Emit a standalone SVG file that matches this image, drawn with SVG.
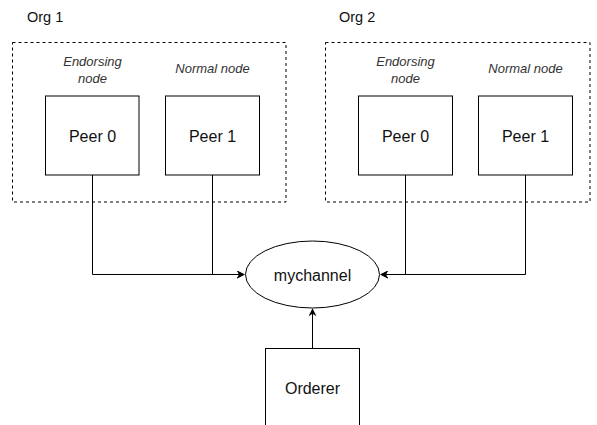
<svg xmlns="http://www.w3.org/2000/svg" width="597" height="425" viewBox="0 0 597 425">
<style>
.org{fill:none;stroke:#000;stroke-width:1;stroke-dasharray:3 3}
.box{fill:#fff;stroke:#000;stroke-width:1}
.t{font-family:"Liberation Sans",Arial,sans-serif;font-size:16px;fill:#111;text-anchor:middle}
.lbl{font-family:"Liberation Sans",Arial,sans-serif;font-size:14.5px;fill:#111}
.it{font-family:"Liberation Sans",Arial,sans-serif;font-size:13px;font-style:italic;fill:#333;text-anchor:middle}
.edge{fill:none;stroke:#000;stroke-width:1}
</style>
<defs>
<marker id="arr" viewBox="0 0 10 10" refX="9" refY="5" markerWidth="8" markerHeight="8" markerUnits="userSpaceOnUse" orient="auto">
<path d="M0,0 L10,5 L0,10 L3,5 Z" fill="#000"/>
</marker>
</defs>
<rect width="597" height="425" fill="#fff"/>
<g id="org1">
<rect class="org" x="12.5" y="42.5" width="273.5" height="159.5"/>
<text class="lbl" x="27" y="22">Org 1</text>
</g>
<g id="org2">
<rect class="org" x="325.5" y="42.5" width="264.5" height="159.5"/>
<text class="lbl" x="339" y="22">Org 2</text>
</g>
<g id="connectors">
<path class="edge" d="M92.5,175 V274.5 H244" marker-end="url(#arr)"/>
<path class="edge" d="M212.5,175 V274.5 H244" marker-end="url(#arr)"/>
<path class="edge" d="M405.5,175 V274.5 H381" marker-end="url(#arr)"/>
<path class="edge" d="M525.5,175 V274.5 H381" marker-end="url(#arr)"/>
<path class="edge" d="M312.5,348 V309" marker-end="url(#arr)"/>
</g>
<g id="org1-peer0">
<text class="it" x="92.5" y="66">Endorsing</text>
<text class="it" x="92.5" y="83">node</text>
<rect class="box" x="45.5" y="96" width="93.5" height="79"/>
<text class="t" x="92.5" y="141.5">Peer 0</text>
</g>
<g id="org1-peer1">
<text class="it" x="212.5" y="73">Normal node</text>
<rect class="box" x="165.5" y="96" width="94" height="79"/>
<text class="t" x="212.5" y="141.5">Peer 1</text>
</g>
<g id="org2-peer0">
<text class="it" x="405.5" y="66">Endorsing</text>
<text class="it" x="405.5" y="83">node</text>
<rect class="box" x="358.5" y="96" width="94" height="79"/>
<text class="t" x="405.5" y="141.5">Peer 0</text>
</g>
<g id="org2-peer1">
<text class="it" x="525.5" y="73">Normal node</text>
<rect class="box" x="478.5" y="96" width="94" height="79"/>
<text class="t" x="525.5" y="141.5">Peer 1</text>
</g>
<g id="mychannel">
<ellipse class="box" cx="312.5" cy="274.5" rx="67" ry="33.5"/>
<text class="t" x="312.5" y="280.5">mychannel</text>
</g>
<g id="orderer">
<rect class="box" x="265.5" y="348.5" width="94" height="90"/>
<text class="t" x="312.5" y="394">Orderer</text>
</g>
</svg>
